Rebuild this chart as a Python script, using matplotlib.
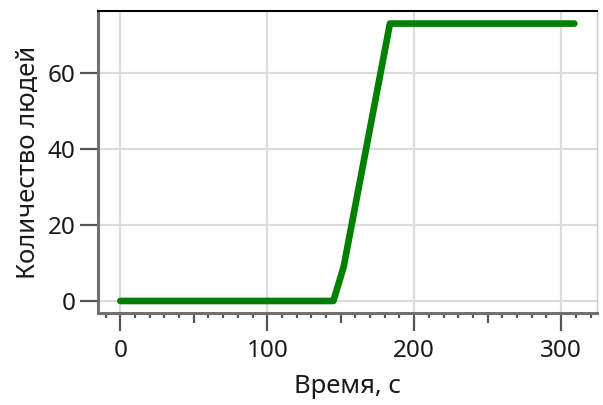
import numpy as np
import matplotlib.pyplot as plt
from matplotlib.ticker import MultipleLocator

# Evacuation curve: time (s) vs number of people
time_s = [0, 145, 152, 183.5, 309]
people = [0, 0, 9, 73, 73]

x_major = [0, 100, 200, 300]
y_major = [0, 20, 40, 60]

plt.rcParams['font.family'] = ['Noto Sans', 'DejaVu Sans']

fig = plt.figure(figsize=(6.03, 4.05), dpi=100)
ax = fig.add_axes([0.1625, 0.2272, 0.8275, 0.7456])

ax.plot(time_s, people, color='#008000', lw=4.8, solid_capstyle='round',
        solid_joinstyle='round', zorder=3)

ax.set_xlim(-15.2, 324.4)
ax.set_ylim(-3.16, 76.3)
ax.set_xticks(x_major)
ax.set_yticks(y_major)
ax.xaxis.set_minor_locator(MultipleLocator(10))

ax.grid(True, which='major', color='#dcdcdc', lw=1.6)
ax.set_axisbelow(True)

# spines
for side in ['left', 'bottom']:
    ax.spines[side].set_color('#707070')
    ax.spines[side].set_linewidth(2.2)
ax.spines['top'].set_color('#000000')
ax.spines['top'].set_linewidth(1.5)
ax.spines['right'].set_color('#c8c8c8')
ax.spines['right'].set_linewidth(1.0)

ax.tick_params(axis='both', which='major', direction='out', length=13,
               width=1.6, color='#555555', labelsize=17.5,
               labelcolor='#1a1a1a')
ax.tick_params(axis='x', which='major', pad=5.5)
ax.tick_params(axis='y', which='major', pad=3)
ax.tick_params(axis='x', which='minor', direction='out', length=3.5,
               width=1.6, color='#555555')

# medium ticks at every 50 s
ax.figure.canvas.draw()
for tick, loc in zip(ax.xaxis.get_minor_ticks(), ax.xaxis.get_minorticklocs()):
    if abs(loc % 100 - 50) < 1e-6:
        tick.tick1line.set_markersize(7.5)

ax.set_xlabel('Время, с', fontsize=18.5, color='#1a1a1a', labelpad=8)
ax.set_ylabel('Количество людей', fontsize=18.5, color='#1a1a1a', labelpad=5)

fig.savefig('out.png', dpi=100)
